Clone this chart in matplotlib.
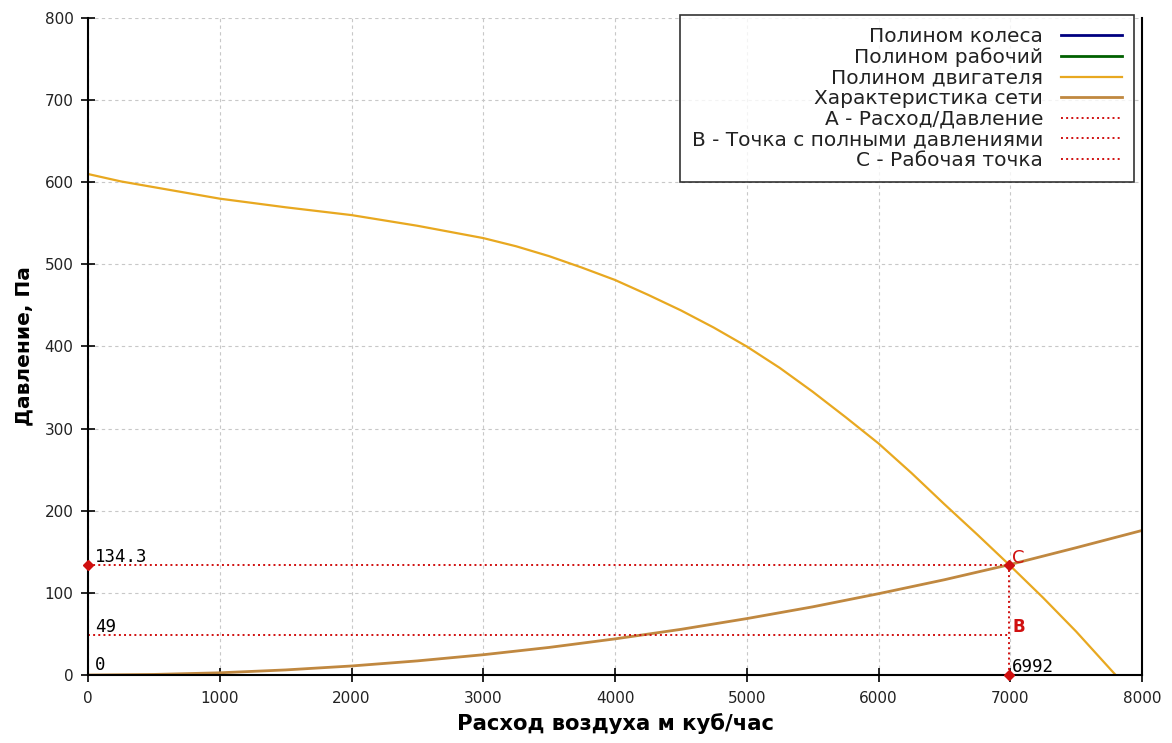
import matplotlib.pyplot as plt

# curve readings (flow m3/h -> pressure Pa)
motor_x = [0, 250, 500, 750, 1000, 1500, 2000, 2500, 3000, 3250, 3500, 3750,
           4000, 4250, 4500, 4750, 5000, 5250, 5500, 5750, 6000, 6250, 6500,
           6750, 7000, 7250, 7500, 7800]
motor_y = [610, 601, 594, 587, 580, 569.5, 560, 547, 532, 522, 510, 496,
           481, 463, 444, 423, 400, 374, 345, 314, 282, 246, 208,
           171, 133, 94, 53, 0]

net_x = [0, 500, 1000, 1500, 2000, 2500, 3000, 3500, 4000, 4500, 5000,
         5500, 6000, 6500, 7000, 7500, 8000]
net_y = [0, 0.7, 2.7, 6.2, 11, 17.2, 24.7, 33.6, 44, 55.6, 68.7,
         83, 99, 116, 134.6, 155, 176]

# operating point
work_flow = 6992
work_press = 134.3
full_press = 49

labels = ['Полином колеса', 'Полином рабочий', 'Полином двигателя',
          'Характеристика сети', 'A - Расход/Давление',
          'B - Точка с полными давлениями', 'C - Рабочая точка']

red = '#d01010'

fig = plt.figure(figsize=(11.72, 7.43), dpi=100)
ax = fig.add_axes([0.0751, 0.0915, 0.8993, 0.8843])

h1, = ax.plot([], [], color='#000080', lw=2)
h2, = ax.plot([], [], color='#006000', lw=2)
h3, = ax.plot(motor_x, motor_y, color='#e8a820', lw=1.6)
h4, = ax.plot(net_x, net_y, color='#c08840', lw=2)

hA, = ax.plot([0, work_flow], [work_press, work_press], color=red, ls=':', lw=1.4)
hB, = ax.plot([0, work_flow], [full_press, full_press], color=red, ls=':', lw=1.4)
hC, = ax.plot([work_flow, work_flow], [0, work_press], color=red, ls=':', lw=1.4)
ax.plot([0, work_flow, work_flow], [work_press, work_press, 0], ls='none',
        marker='D', ms=5, color=red, clip_on=False, zorder=5)

mono = 'DejaVu Sans Mono'
ax.text(53, work_press + 3, '134.3', fontsize=12.5, family=mono, va='baseline')
ax.text(53, full_press + 3.5, '49', fontsize=12.5, family=mono, va='baseline')
ax.text(53, 6, '0', fontsize=12.5, family=mono, va='baseline')
ax.text(work_flow + 20, 4, '6992', fontsize=12.5, family=mono, va='baseline')
ax.text(work_flow + 20, work_press + 2, 'C', fontsize=13, color=red, va='baseline')
ax.text(work_flow + 25, full_press + 3.4, 'B', fontsize=12, color=red,
        va='baseline', fontweight='bold')

ax.set_xlim(0, 8000)
ax.set_ylim(0, 800)
ax.set_xticks(range(0, 8001, 1000))
ax.set_yticks(range(0, 801, 100))
ax.tick_params(direction='inout', length=10, width=1.2, labelsize=11,
               labelcolor='#222222')
ax.tick_params(axis='x', pad=6.5)
ax.tick_params(axis='y', pad=5.5)
ax.grid(True, color='#c8c8c8', ls=(0, (3, 3)), lw=0.8)
ax.spines['top'].set_visible(False)
for s in ['left', 'bottom', 'right']:
    ax.spines[s].set_linewidth(1.5)

ax.set_xlabel('Расход воздуха м куб/час', fontsize=15.2, fontweight='bold', labelpad=5)
ax.set_ylabel('Давление, Па', fontsize=14.5, fontweight='bold', labelpad=8)

leg = ax.legend([h1, h2, h3, h4, hA, hB, hC], labels, loc='upper right',
                bbox_to_anchor=(0.9924, 1.0046), markerfirst=False, fontsize=14.5,
                frameon=True, fancybox=False, edgecolor='black',
                labelspacing=0.075, handlelength=3, borderpad=0.6,
                borderaxespad=0, handletextpad=0.9)
leg.get_frame().set_linewidth(1.2)
for t in leg.get_texts():
    t.set_color('#222222')

fig.savefig('out.png', dpi=100)
